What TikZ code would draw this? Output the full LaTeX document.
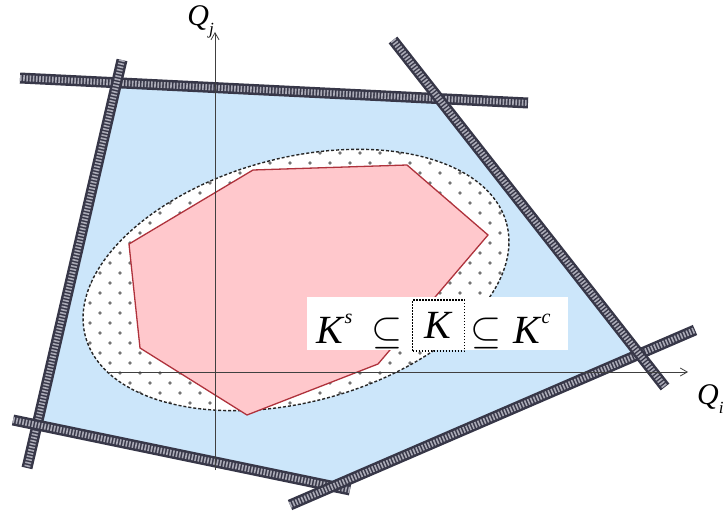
\RequirePackage{fix-cm}
\documentclass[tikz,border=0pt]{standalone}
\usepackage{fontspec}
\setmainfont{Liberation Serif}
\usetikzlibrary{arrows.meta,patterns.meta}
\definecolor{bluefill}{RGB}{204,230,250}
\definecolor{pinkfill}{RGB}{255,200,204}
\definecolor{redline}{RGB}{175,50,60}
\definecolor{bandc}{RGB}{55,55,72}
\definecolor{bandin}{RGB}{170,170,182}
\definecolor{navy}{RGB}{40,45,90}
\tikzset{
  band/.style={line width=11pt, draw=bandc, line cap=butt,
    postaction={draw=bandin, line width=6pt, dash pattern=on 1.6pt off 1.6pt}},
  axisline/.style={draw=black!75, line width=0.8pt, -{Straight Barb[length=7pt,width=8pt]}},
  txt/.style={font=\fontsize{40}{40}\selectfont, inner sep=0pt},
  lab/.style={font=\fontsize{30}{30}\selectfont, inner sep=0pt},
  dotfill/.style={pattern={Dots[distance=20pt,radius=1.9pt,#1]}, pattern color=black!55},
  oval/.style={x radius=218, y radius=122, rotate=15},
}
\begin{document}
\begin{tikzpicture}[x=1pt,y=-1pt]
\useasboundingbox (0,0) rectangle (727,513);
% band end points
\coordinate (t1) at (20,78);   \coordinate (t2) at (528,103);
\coordinate (l1) at (122,60);  \coordinate (l2) at (27,468);
\coordinate (b1) at (13,420);  \coordinate (b2) at (350,490);
\coordinate (r1) at (290,505); \coordinate (r2) at (695,330);
\coordinate (s1) at (393,40);  \coordinate (s2) at (665,387);
% polygon vertices
\coordinate (A) at (intersection of t1--t2 and l1--l2);
\coordinate (B) at (intersection of t1--t2 and s1--s2);
\coordinate (C) at (intersection of s1--s2 and r1--r2);
\coordinate (D) at (intersection of r1--r2 and b1--b2);
\coordinate (E) at (intersection of b1--b2 and l1--l2);
% blue region
\fill[bluefill, draw=navy, line width=1pt] (A)--(B)--(C)--(D)--(E)--cycle;
% ellipse
\coordinate (oc) at (296,280);
\fill[white] (oc) ellipse [oval];
\fill[dotfill={}] (oc) ellipse [oval];
\fill[dotfill={xshift=10pt,yshift=10pt}] (oc) ellipse [oval];
\draw[black!85, line width=1.4pt, dash pattern=on 3pt off 2pt] (oc) ellipse [oval];
% red polygon
\draw[redline, fill=pinkfill, line width=1.3pt]
  (129,244)--(253,170)--(407,165)--(488,235)--(378,364)--(247,415)--(140,348)--cycle;
% bands
\draw[band] (t1)--(t2);
\draw[band] (l1)--(l2);
\draw[band] (b1)--(b2);
\draw[band] (r1)--(r2);
\draw[band] (s1)--(s2);
% axes
\coordinate (xa) at (108,372); \coordinate (xb) at (688,372);
\coordinate (ya) at (215,470); \coordinate (yb) at (215,32);
\draw[axisline] (xa)--(xb);
\draw[axisline] (ya)--(yb);
\node[lab, anchor=south east] (qj) at (214,38) {\textit{Q}\raisebox{-0.3em}{\fontsize{17}{17}\selectfont\textit{j}}};
\node[lab, anchor=north west] (qi) at (697,384) {\textit{Q}\raisebox{-0.3em}{\fontsize{17}{17}\selectfont\textit{i}}};
% label box
\fill[white] (307,297) rectangle (568,350);
\node[txt, anchor=base west] (ks) at (316,343) {\textit{K}\raisebox{0.5em}{\fontsize{20}{20}\selectfont\textit{s}}};
\node[txt, anchor=base west] (sub1) at (371,343) {$\subseteq$};
\node[txt, draw=black, line width=1.1pt, dash pattern=on 1.5pt off 1.5pt, minimum width=52pt, minimum height=51pt] (kb) at (438.5,325.5) {\textit{K}};
\node[txt, anchor=base west] (sub2) at (470,343) {$\subseteq$};
\node[txt, anchor=base west] (kc) at (513,343) {\textit{K}\raisebox{0.5em}{\fontsize{20}{20}\selectfont\textit{c}}};
\end{tikzpicture}
\end{document}
